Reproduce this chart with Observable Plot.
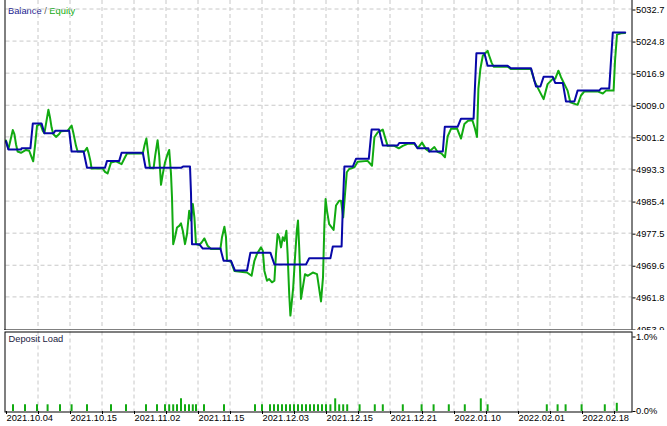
<!DOCTYPE html>
<html><head><meta charset="utf-8">
<script src="https://cdn.jsdelivr.net/npm/d3@7"></script>
<script src="https://cdn.jsdelivr.net/npm/@observablehq/plot@0.6"></script>
<style>
html,body{margin:0;padding:0;background:#fff;}
#wrap{position:relative;width:667px;height:426px;overflow:hidden;font-family:"Liberation Sans",Arial,sans-serif;}
#wrap svg{position:absolute;left:0;overflow:hidden !important;}
#title{position:absolute;left:8px;top:5px;font-size:9.3px;line-height:12px;white-space:nowrap;}
</style></head><body><div id="wrap"><div id="title"><span style="color:#1a1a90">Balance</span><span style="color:#555"> / </span><span style="color:#11aa11">Equity</span></div></div>
<script>
// x is a uniform time index (MT5-style axis); each grid step = 8 index units
const dateLabels = ["2021.10.04","2021.10.15","2021.11.02","2021.11.15","2021.12.03","2021.12.15","2021.12.21","2022.01.10","2022.02.01","2022.02.18"];
const yTicks = [4953.9,4961.8,4969.6,4977.5,4985.4,4993.3,5001.2,5009.0,5016.9,5024.8,5032.7];
const loadTicks = [0, 1];

const balance = [[0,5000.1],[0.6,4998.1],[3.75,4998.1],[3.9,4998.4],[6.1,4998.4],[6.7,5004.5],[8.9,5004.5],[9.6,5002.1],[11.9,5002.1],[12.3,5002.7],[15.8,5002.7],[16.4,4997.6],[19.4,4997.6],[20.25,4993.6],[24.75,4993.6],[25.25,4995.3],[28.3,4995.3],[28.9,4997.3],[34.2,4997.3],[34.9,4993.6],[43.75,4993.6],[44.25,4993.9],[46,4993.9],[46.25,4987.3],[46.5,4974.8],[48.3,4974.8],[49.2,4973.7],[53.6,4973.7],[54.4,4970.7],[56.25,4970.7],[57.25,4968.3],[60.25,4968.3],[61.1,4972.7],[66.1,4972.7],[67.1,4969.8],[75,4969.8],[75.8,4971.3],[81.1,4971.3],[81.7,4974.2],[83.9,4974.2],[84.2,4983.8],[84.6,4993.9],[86.7,4993.9],[87.5,4995.8],[90.7,4995.8],[91.4,5003.0],[93.25,5003.0],[94.2,4999.1],[97.9,4999.1],[98.3,4999.7],[102.1,4999.7],[102.9,4998.4],[105.6,4998.4],[105.8,4997.6],[109.2,4997.6],[109.7,5003.7],[112.9,5003.7],[113.75,5005.7],[116.9,5005.7],[117.6,5021.8],[119.6,5021.8],[120.4,5018.7],[125.4,5018.7],[126.25,5018.1],[131.25,5018.1],[132.5,5013.6],[133.6,5013.6],[134.4,5016.0],[136.7,5016.0],[137.3,5014.5],[139.2,5014.5],[140,5009.9],[142.1,5009.9],[142.9,5012.6],[148.3,5012.6],[148.75,5013.1],[150.8,5013.1],[151.7,5026.9],[154.8,5026.9]];

const equity = [[0,5000.3],[0.6,4998.2],[1.1,5000.3],[1.7,5002.9],[2.1,5001.9],[2.5,4999.4],[2.9,4997.6],[3.75,4997.3],[5,4998.0],[5.8,4997.8],[6.25,4996.6],[6.8,4995.2],[7.3,4999.4],[7.75,5003.9],[8.6,5004.4],[9.2,5002.7],[9.6,5002.1],[10,5004.4],[10.6,5007.9],[11,5006.0],[11.4,5003.5],[11.8,5001.9],[12.5,5001.2],[13.3,5001.9],[13.75,5002.6],[15.4,5002.7],[16.4,5004.0],[16.9,5001.9],[17.5,4999.0],[17.9,4997.6],[19.6,4997.6],[20.25,4998.5],[20.6,4997.4],[21.1,4995.3],[21.4,4993.4],[24.2,4993.4],[24.75,4992.6],[25.4,4992.2],[26.25,4994.9],[27.5,4995.2],[28.9,4994.5],[29.75,4996.2],[30.25,4997.1],[34.2,4997.1],[34.6,4999.0],[35.1,5000.8],[35.6,4996.6],[36,4993.5],[36.9,4993.5],[37.3,4996.6],[37.9,5000.4],[38.3,4996.6],[38.75,4989.4],[39.2,4992.1],[39.75,4994.9],[40.4,4997.0],[40.8,4998.0],[41.25,4992.1],[41.5,4986.3],[41.8,4974.8],[42.25,4976.5],[42.75,4978.9],[43.3,4979.3],[43.75,4979.9],[44.2,4978.1],[44.75,4974.8],[45.25,4977.3],[45.8,4983.0],[46.25,4980.6],[46.7,4984.7],[47.1,4981.4],[47.5,4974.8],[48.3,4974.6],[48.9,4975.2],[49.6,4976.2],[50.4,4974.4],[51.25,4973.6],[53.6,4973.6],[54,4976.5],[54.6,4979.1],[55,4976.5],[55.25,4970.7],[56.25,4970.5],[57.1,4968.2],[60.25,4967.8],[61.4,4967.0],[62.1,4970.7],[62.75,4972.4],[63.75,4974.0],[64.2,4973.2],[64.6,4968.2],[65.25,4965.8],[65.8,4966.2],[66.5,4965.4],[67.1,4965.8],[67.5,4972.4],[67.9,4977.3],[68.3,4976.5],[68.75,4974.0],[69.2,4976.5],[69.6,4975.6],[70.1,4978.1],[70.4,4972.4],[70.8,4962.5],[71.1,4957.2],[71.4,4960.1],[71.8,4964.1],[72.25,4971.5],[72.7,4978.1],[73,4980.6],[73.3,4974.0],[73.75,4961.3],[74.2,4964.1],[74.75,4967.4],[75.4,4967.0],[76.7,4967.8],[77.75,4967.4],[78.25,4964.1],[78.75,4960.7],[79.25,4966.6],[79.6,4979.7],[79.9,4985.9],[80.25,4983.0],[80.8,4979.7],[81.9,4978.3],[82.5,4984.3],[83.3,4985.5],[83.75,4985.5],[84.3,4981.4],[84.75,4987.1],[85.2,4992.5],[85.8,4993.3],[87.1,4993.7],[87.9,4995.1],[90.4,4995.3],[91.5,4994.1],[92.1,5001.1],[92.9,5002.3],[94.2,5003.0],[94.75,5001.1],[95.4,4999.0],[97.1,4999.0],[98.2,4998.4],[99.2,4999.0],[100.4,4999.5],[102.1,4999.5],[102.9,4998.4],[104,4999.8],[105,4998.2],[105.8,4997.6],[107.1,4998.7],[107.9,4997.5],[108.9,4997.1],[109.75,4996.2],[110.4,5001.3],[111.25,5003.2],[112.75,5003.3],[113.75,5000.8],[114.6,5004.4],[115.5,5005.2],[116.6,5005.3],[117.2,5003.4],[117.75,5001.2],[118.1,5013.1],[118.6,5018.0],[119.2,5021.2],[120,5022.0],[120.4,5022.4],[120.8,5021.2],[121.4,5019.5],[121.9,5018.5],[125.4,5018.5],[126.25,5017.9],[131.25,5017.9],[132.1,5015.0],[133.3,5012.6],[134.4,5010.5],[135.4,5014.2],[136.7,5015.5],[137.3,5015.5],[138.1,5017.5],[138.75,5015.9],[139.6,5014.2],[140.4,5012.6],[141.1,5009.7],[142.9,5009.1],[143.75,5011.4],[144.6,5012.4],[147.9,5012.4],[149.2,5011.9],[150,5012.6],[151.9,5012.6],[152.25,5019.9],[152.75,5026.4],[153.75,5026.7],[154.75,5026.8]];

const depositLoad = [[1.75,0.09],[4.75,0.09],[7.75,0.09],[10.4,0.09],[13.5,0.09],[16.4,0.09],[20.25,0.09],[26.25,0.09],[30,0.09],[35,0.09],[37.75,0.09],[39.75,0.09],[40.8,0.09],[41.8,0.09],[42.75,0.09],[43.75,0.17],[44.75,0.09],[45.75,0.09],[46.7,0.09],[47.5,0.09],[49.5,0.09],[54.5,0.09],[62.25,0.09],[64,0.09],[66,0.09],[67,0.09],[68,0.09],[69,0.09],[70,0.09],[71,0.09],[72,0.09],[73,0.09],[74,0.09],[75,0.09],[76,0.09],[77,0.09],[78,0.09],[79,0.09],[80,0.09],[81.1,0.09],[82.3,0.17],[83.3,0.09],[84.3,0.09],[85.3,0.09],[88.4,0.09],[92.2,0.09],[94.2,0.09],[99.2,0.09],[103.9,0.09],[106.9,0.09],[110.7,0.09],[114.7,0.09],[118.7,0.17],[120.4,0.09],[135.2,0.09],[137.9,0.09],[139.9,0.09],[143.9,0.09],[149.7,0.09],[152.7,0.11]];

const GREEN = "#11aa11", BLUE = "#0808a8", GRID = "#c8c8c8";
const STEP = 8;
const xDomain = [0, 156.5];
const gridT = d3.range(STEP, xDomain[1], STEP);
const tickT = d3.range(0, xDomain[1], STEP);
const labelAt = t => (t % (2*STEP) === 0 && dateLabels[t/(2*STEP)]) ? dateLabels[t/(2*STEP)] : "";
const FONT = {fontFamily: "'Liberation Sans', Arial, sans-serif", fontSize: "9.3px", color: "#000", background: "transparent"};

const main = Plot.plot({
  width: 667, height: 330,
  marginLeft: 5.5, marginRight: 35.5, marginTop: 8.5, marginBottom: 1.5,
  style: FONT,
  x: {domain: xDomain, axis: null},
  y: {domain: [yTicks[0], yTicks[yTicks.length-1]]},
  marks: [
    Plot.ruleX(gridT, {stroke: GRID, strokeDasharray: "4,3", insetTop: -8.5, insetBottom: -1}),
    Plot.ruleY(yTicks.slice(1), {stroke: GRID, strokeDasharray: "4,3"}),
    Plot.line(equity, {x: d => d[0], y: d => d[1], stroke: GREEN, strokeWidth: 2}),
    Plot.line(balance, {x: d => d[0], y: d => d[1], stroke: BLUE, strokeWidth: 2}),
    // open-top frame: left, right and bottom borders only
    Plot.ruleX([xDomain[0]], {stroke: "#000", dx: -1, insetTop: -8.5, insetBottom: -1.5}),
    Plot.ruleX([xDomain[1]], {stroke: "#000", insetTop: -8.5, insetBottom: -1.5}),
    Plot.ruleY([yTicks[0]], {stroke: "#000", dy: 1, insetLeft: -1.5}),
    Plot.axisY(yTicks, {anchor: "right", tickSize: 3, tickPadding: 1, dy: 1, tickFormat: d => d.toFixed(1), label: null})
  ]
});
main.style.top = "0px";

const lower = Plot.plot({
  width: 667, height: 96,
  marginLeft: 5.5, marginRight: 35.5, marginTop: 6.5, marginBottom: 15,
  style: FONT,
  x: {domain: xDomain, axis: null},
  y: {domain: [0, 1]},
  marks: [
    Plot.ruleX(gridT, {stroke: GRID, strokeDasharray: "4,3", insetTop: -5}),
    Plot.ruleX(depositLoad, {x: d => d[0], y1: 0, y2: d => d[1], stroke: GREEN, strokeWidth: 2}),
    Plot.frame({stroke: "#000", insetTop: -5, insetBottom: -0.5, insetLeft: -1}),
    Plot.axisY(loadTicks, {anchor: "right", tickSize: 3, tickPadding: 1, tickFormat: d => d.toFixed(1) + "%", label: null}),
    Plot.axisX(tickT, {anchor: "bottom", tickSize: 3, tickPadding: 0, textAnchor: "start", dx: 0.5, tickFormat: labelAt, label: null}),
    Plot.text(["Deposit Load"], {frameAnchor: "top-left", text: d => d, dx: 2.5, dy: -1.5, lineAnchor: "top", fill: "#1a1a40"})
  ]
});
lower.style.top = "330px";

const wrap = document.getElementById("wrap");
wrap.appendChild(main);
wrap.appendChild(lower);
</script></body></html>
